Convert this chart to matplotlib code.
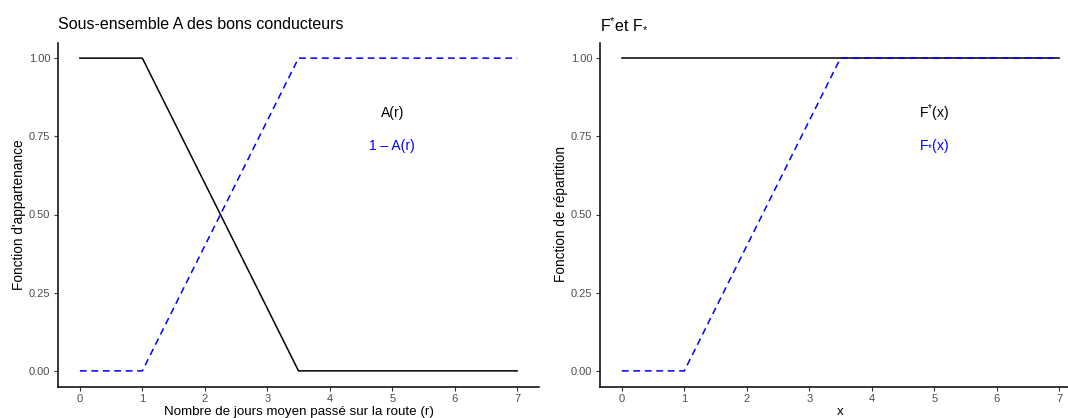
import matplotlib.pyplot as plt
import numpy as np

plt.rcParams['font.family'] = ['Liberation Sans', 'DejaVu Sans']
plt.rcParams['mathtext.fontset'] = 'custom'
plt.rcParams['mathtext.rm'] = 'Liberation Sans'
plt.rcParams['mathtext.it'] = 'Liberation Sans'

# fonction d'appartenance A(r) et son complement
r = [0, 1, 3.5, 7]
a_r = [1, 1, 0, 0]
one_minus_a = [0, 0, 1, 1]

# bornes F^* et F_*
x = [0, 1, 3.5, 7]
f_upper = [1, 1, 1, 1]
f_lower = [0, 0, 1, 1]

xticks = [0, 1, 2, 3, 4, 5, 6, 7]
yticks = [0.0, 0.25, 0.5, 0.75, 1.0]
ytick_labels = ['0.00', '0.25', '0.50', '0.75', '1.00']

W, H = 1068, 418
fig = plt.figure(figsize=(W / 100, H / 100), dpi=100)

def px_axes(left, top, right, bottom):
    return fig.add_axes([left / W, 1 - bottom / H, (right - left) / W, (bottom - top) / H])

ax1 = px_axes(58, 42.5, 539, 386.5)
ax2 = px_axes(600, 42.5, 1081, 386.5)

def style(ax):
    ax.set_xlim(-0.35, 7.35)
    ax.set_ylim(-0.05, 1.05)
    ax.set_xticks(xticks)
    ax.set_yticks(yticks)
    ax.set_yticklabels(ytick_labels)
    for s in ['top', 'right']:
        ax.spines[s].set_visible(False)
    for s in ['left', 'bottom']:
        ax.spines[s].set_linewidth(1.1)
    ax.tick_params(length=3, width=0.8, color='#333333', labelcolor='#4d4d4d',
                   labelsize=8, pad=2.5)

ax1.plot(r, a_r, color='black', lw=1.1)
ax1.plot(r, one_minus_a, color='blue', lw=1.1, ls=(0, (4.5, 3)))
ax1.text(5, 0.825, 'A(r)', color='black', ha='center', va='center', fontsize=10)
ax1.text(5, 0.72, '1 \u2013 A(r)', color='blue', ha='center', va='center', fontsize=10)
style(ax1)
ax1.set_title('Sous-ensemble A des bons conducteurs', loc='left', fontsize=11.5, pad=10)
ax1.set_xlabel('Nombre de jours moyen passé sur la route (r)', fontsize=9.6, labelpad=1)
ax1.set_ylabel("Fonction d'appartenance", fontsize=9.8, labelpad=1.8)

ax2.plot(x, f_upper, color='black', lw=1.1)
ax2.plot(x, f_lower, color='blue', lw=1.1, ls=(0, (4.5, 3)))
ax2.text(5, 0.825, r'$\mathregular{F^{*}(x)}$', color='black', ha='center', va='center', fontsize=10)
ax2.text(5, 0.72, r'$\mathregular{F_{*}(x)}$', color='blue', ha='center', va='center', fontsize=10)
style(ax2)
ax2.set_title(r'$\mathregular{F^{*}et\ F_{*}}$', loc='left', fontsize=11.5, pad=10)
ax2.set_xlabel('x', fontsize=9.6, labelpad=1)
ax2.set_ylabel('Fonction de répartition', fontsize=9.8, labelpad=1.8)

fig.savefig('out.png', dpi=100)
